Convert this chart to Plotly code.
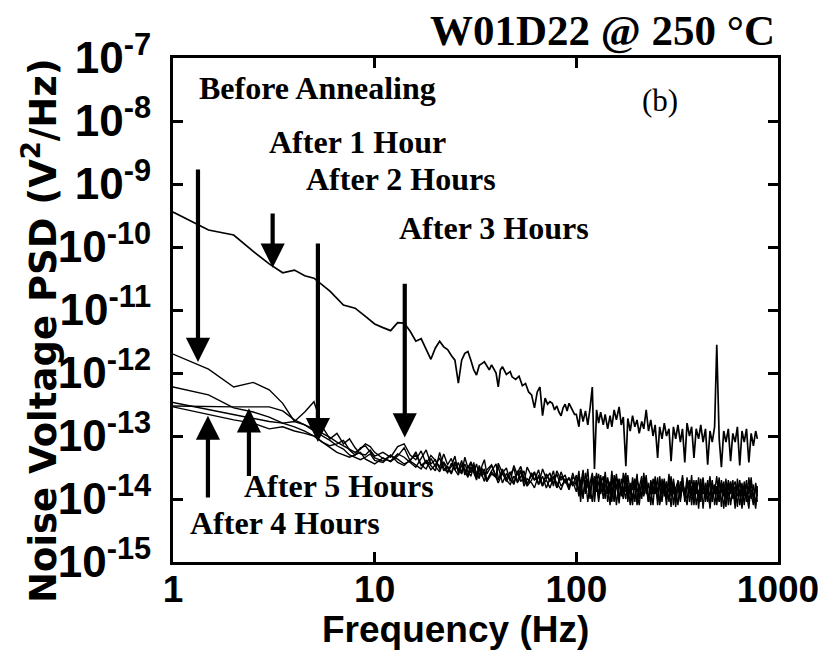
import numpy as np
import plotly.graph_objects as go

# ---------------- data ----------------
# PSD values are stored in units of 1e-14 V^2/Hz
UNIT = 1e-14

# shared high-frequency grid (Hz)
freq_high = [100, 103, 105, 108, 111, 114, 117, 120, 123, 126,
             129, 132, 136, 139, 143, 147, 150, 154, 158, 163,
             167, 171, 176, 180, 185, 190, 195, 200, 205, 211,
             216, 222, 228, 234, 240, 246, 253, 259, 266, 273,
             280, 288, 295, 303, 311, 319, 328, 336, 345, 354,
             364, 373, 383, 393, 404, 414, 425, 437, 448, 460,
             472, 485, 497, 511, 524, 538, 552, 567, 582, 597,
             613, 629, 646, 663, 680, 698, 717, 736, 755, 775, 790]

freq_before_low = [1, 1.5, 2, 2.5, 3, 3.5, 4, 4.5, 5,
                   6, 7, 8, 9, 10, 11, 12, 13, 14, 15, 16, 17, 18, 19, 20, 21, 22, 23, 24, 25,
                   26, 27, 28, 29, 30, 31, 32, 33, 34, 35,
                   37, 38, 40, 41, 42, 43, 45, 47, 48, 50,
                   52, 54, 56, 58, 60, 62, 64, 66, 68, 70, 72, 74, 76, 78, 80, 82, 84, 86, 88, 90, 92,
                   95, 98]

freq_after_low = [1, 1.5, 2, 2.5, 3, 3.5, 4, 4.5, 5, 5.5, 6, 6.5, 7, 7.5, 8, 8.5, 9, 9.5,
                  10, 11, 12, 13, 14, 15, 16, 17, 18, 19, 20, 21, 22, 23, 24, 25, 26, 27, 28, 29, 30,
                  31, 32, 33, 34, 35, 36, 38, 40, 41, 43, 45, 47, 49, 51, 53, 55, 57, 60, 62, 65,
                  68, 71, 74, 77, 80, 84, 88, 92, 96]

psd_before = [36000, 18600, 15500, 8500, 5400, 3900, 4300, 3500, 3200,
              2000, 1200, 1070, 790, 600, 525, 470, 630, 620, 460, 320, 350, 240, 165, 250, 320, 260, 235, 190, 160,
              69, 160, 205, 220, 160, 112, 93, 132, 141, 151,
              112, 135, 100, 60, 112, 126, 95, 105, 87, 79,
              89, 63, 68, 50, 45, 28, 50, 60, 21, 40, 32, 35, 33, 26, 30, 24, 21, 28, 32, 25, 33,
              26, 22,
              # 100 Hz and up
              22, 14, 27, 17, 25, 15, 28, 60, 3, 26,
              16, 24, 15, 22, 13, 21, 14, 26, 18, 29,
              15, 20, 3.3, 19, 12, 21, 14, 18, 11, 17,
              13, 26, 12, 18, 10, 15, 4.5, 14, 9, 16,
              10, 13, 4, 14, 9, 15, 8, 13, 3.8, 16,
              10, 14, 4.5, 13, 9, 15, 8, 13, 3.5, 12,
              8, 14, 280, 9, 3.2, 12, 8, 13, 4, 11,
              8, 14, 3.4, 12, 8, 13, 3.8, 11, 7, 12, 9]

psd_1h = [200, 115, 60, 71, 54, 33, 17, 24, 35, 14, 9, 11, 7.5, 9, 6.5, 5.2, 5, 6,
          4.8, 5.5, 4.6, 6.8, 7.5, 5.0, 4.2, 5.8, 3.6, 4.9, 4.1, 3.2, 5.2, 3.5, 4.4, 2.9, 3.8, 2.6, 4.6, 3.1, 3.9,
          2.7, 3.6, 2.3, 3.3, 4.2, 2.5, 3.4, 2.2, 3.7, 2.6, 3.1, 1.9, 3.4, 2.4, 2.9, 1.8, 3.2, 2.3, 2.7, 1.7,
          3.0, 2.1, 2.6, 1.6, 2.8, 2.0, 2.4, 1.5, 2.6,
          1.6, 2.8, 1.2, 2.3, 1.5, 3.0, 1.1, 2.0, 1.7, 2.6,
          1.0, 2.2, 1.4, 2.7, 1.2, 1.9, 0.9, 2.4, 1.5, 2.1,
          1.1, 2.6, 1.3, 1.8, 0.8, 2.2, 1.4, 2.5, 1.0, 1.9,
          1.3, 2.4, 0.9, 1.7, 1.2, 2.3, 0.8, 1.9, 1.4, 2.1,
          1.0, 2.5, 1.1, 1.6, 0.75, 2.0, 1.3, 2.2, 0.9, 1.8,
          1.2, 2.4, 0.8, 1.6, 1.1, 2.1, 0.7, 1.8, 1.3, 2.3,
          0.9, 1.7, 1.2, 2.2, 0.75, 1.9, 1.0, 2.0, 1.3, 1.6,
          0.7, 2.1, 1.1, 1.8, 0.8, 1.7, 1.2, 2.2, 0.9, 1.6, 1.1]

psd_2h = [60, 45, 28, 24, 20, 16, 14, 12, 10, 8, 7, 7.5, 8.5, 6, 5, 6.5, 7, 5.5,
          4.5, 4.0, 5.0, 3.8, 3.4, 4.2, 5.0, 3.5, 3.0, 4.4, 3.3, 2.7, 3.9, 3.1, 2.5, 3.6, 2.8, 4.1, 2.4, 3.4, 2.6,
          3.8, 2.2, 3.2, 2.4, 1.9, 2.9, 3.5, 2.3, 2.0, 3.0, 2.1, 2.7, 1.8, 2.6, 3.3, 2.2, 1.7, 2.4, 2.0, 2.9,
          1.6, 2.5, 1.9, 2.3, 1.5, 2.7, 1.8, 2.2, 1.6,
          2.4, 1.3, 2.0, 1.0, 2.6, 1.6, 1.2, 2.3, 0.9, 1.9,
          2.5, 1.2, 1.8, 1.0, 2.2, 1.4, 2.8, 1.1, 1.7, 0.85,
          2.1, 1.5, 1.0, 2.4, 1.3, 1.9, 0.9, 2.0, 1.5, 1.1,
          2.6, 1.2, 1.8, 0.8, 2.1, 1.4, 1.0, 2.3, 1.2, 1.6,
          0.8, 2.2, 1.3, 1.9, 0.9, 1.7, 1.1, 2.4, 1.0, 1.5,
          2.0, 0.8, 1.8, 1.2, 2.2, 0.9, 1.6, 1.1, 2.0, 0.7,
          1.7, 1.3, 2.3, 0.9, 1.5, 1.1, 2.1, 0.8, 1.8, 1.2,
          1.6, 0.75, 2.0, 1.1, 1.5, 0.9, 2.2, 1.0, 1.7, 0.8, 1.4]

psd_3h = [30, 29, 29, 29, 29, 25, 18, 15, 13, 11, 9.5, 8, 7, 6, 5.5, 6.2, 7.5, 6.8,
          5.5, 4.4, 4.0, 5.2, 4.6, 3.8, 3.2, 4.4, 6.0, 3.6, 4.2, 3.0, 3.7, 2.7, 3.3, 4.8, 2.6, 3.5, 3.0, 2.4, 3.8,
          2.8, 2.2, 3.4, 2.5, 3.0, 2.0, 2.8, 3.6, 2.1, 2.6, 1.9, 2.4, 3.1, 1.8, 2.3, 2.8, 1.7, 2.6, 2.0, 2.2,
          1.6, 2.5, 1.9, 2.8, 1.5, 2.3, 1.8, 2.1, 1.7,
          1.8, 2.2, 0.9, 2.7, 1.3, 1.8, 1.0, 2.4, 1.4, 2.0,
          0.9, 1.7, 2.3, 1.2, 1.6, 0.8, 2.1, 1.5, 2.5, 1.0,
          1.6, 1.2, 2.2, 0.9, 1.8, 1.4, 2.0, 0.8, 1.5, 2.3,
          1.1, 1.7, 0.9, 2.0, 1.4, 1.2, 2.2, 0.8, 1.6, 1.3,
          1.9, 0.9, 2.1, 1.2, 1.5, 0.8, 1.9, 1.4, 1.1, 2.2,
          0.9, 1.6, 1.3, 2.0, 0.7, 1.7, 1.2, 1.5, 0.9, 2.1,
          1.1, 1.6, 0.8, 1.9, 1.3, 1.4, 0.75, 1.8, 1.2, 2.0,
          0.9, 1.5, 1.3, 0.7, 1.9, 1.0, 1.6, 1.2, 0.8, 1.8, 1.3]

psd_4h = [34, 26, 22, 19, 17, 16, 17, 15, 12, 10, 8.5, 7, 6.2, 5, 4.5, 4.2, 4.6, 5.2,
          4.1, 3.8, 4.9, 4.3, 3.6, 4.0, 5.6, 3.4, 4.0, 2.9, 3.5, 4.5, 2.8, 3.3, 2.6, 3.9, 3.0, 2.5, 3.6, 2.7, 2.3,
          3.4, 2.6, 2.1, 3.1, 2.4, 1.9, 2.7, 2.2, 3.3, 1.8, 2.5, 2.1, 1.7, 2.8, 1.9, 2.2, 1.6, 2.0, 2.6, 1.7,
          2.3, 1.5, 2.1, 1.8, 2.5, 1.6, 2.0, 1.4, 2.2,
          2.0, 1.1, 1.7, 2.9, 1.2, 2.1, 1.5, 0.9, 2.3, 1.3,
          1.8, 2.4, 1.0, 1.6, 2.0, 1.2, 1.5, 0.9, 2.2, 1.7,
          1.2, 1.9, 2.6, 1.1, 1.4, 0.8, 2.0, 1.3, 1.7, 1.0,
          2.2, 1.5, 0.9, 1.8, 1.2, 2.0, 1.4, 0.85, 2.1, 1.1,
          1.6, 1.3, 2.3, 0.8, 1.5, 1.9, 1.0, 1.7, 1.2, 0.8,
          2.0, 1.4, 1.1, 1.8, 0.9, 1.5, 2.2, 1.0, 1.4, 0.75,
          1.8, 1.2, 1.6, 0.9, 2.0, 1.3, 1.0, 1.7, 0.8, 1.5,
          1.9, 1.1, 1.4, 0.8, 1.7, 1.2, 0.7, 1.9, 1.1, 1.5, 0.9]

psd_5h = [29, 22, 18, 16, 13, 14, 12, 11, 10, 8, 6.5, 5.5, 5, 4.6, 5.0, 5.5, 4.3, 3.9,
          3.6, 4.5, 3.9, 4.8, 6.5, 4.0, 3.4, 3.0, 4.1, 3.3, 2.8, 5.5, 3.1, 2.6, 3.7, 2.9, 2.4, 3.5, 2.7, 2.2, 3.2,
          2.6, 2.0, 3.0, 2.3, 2.7, 1.9, 2.5, 2.2, 1.8, 2.6, 2.0, 1.7, 2.3, 1.9, 2.8, 1.6, 2.1, 1.8, 1.5, 2.4,
          1.7, 2.0, 1.5, 2.2, 1.8, 1.4, 2.1, 1.6, 1.9,
          1.3, 2.5, 1.7, 1.1, 2.0, 0.9, 1.8, 2.6, 1.2, 1.6,
          1.1, 2.1, 1.3, 2.4, 0.9, 1.7, 1.2, 2.0, 0.8, 1.9,
          1.4, 1.0, 2.3, 1.3, 1.6, 1.0, 2.1, 1.2, 0.8, 1.8,
          1.5, 2.1, 1.0, 1.4, 0.8, 2.0, 1.3, 1.6, 0.9, 1.9,
          1.2, 1.5, 0.75, 2.1, 1.1, 1.6, 0.9, 1.8, 1.3, 1.0,
          1.7, 1.1, 2.0, 0.8, 1.4, 1.2, 1.9, 0.9, 1.5, 1.1,
          2.0, 0.8, 1.4, 1.2, 1.8, 0.7, 1.6, 1.1, 1.9, 1.0,
          1.3, 1.7, 0.8, 1.5, 1.1, 2.0, 0.9, 1.4, 1.2, 0.7, 1.6]

freq_before = freq_before_low + freq_high
freq_after = freq_after_low + freq_high
series_after = [psd_1h, psd_2h, psd_3h, psd_4h, psd_5h]

# annotation arrows: (frequency Hz, tail PSD, tip PSD)
arrows = [(1.33, 1.8e-9, 1.5e-12),
          (3.12, 3.6e-10, 4.7e-11),
          (5.23, 1.2e-10, 8.0e-14),
          (14.1, 2.75e-11, 9.5e-14),
          (1.49, 1.0e-14, 2.1e-13),
          (2.38, 2.2e-14, 2.75e-13)]

x_tickvals = [1, 10, 100, 1000]
x_ticktext = ["1", "10", "100", "1000"]
y_exponents = [-15, -14, -13, -12, -11, -10, -9, -8, -7]

assert len(freq_before) == len(psd_before), (len(freq_before), len(psd_before))
for s in series_after:
    assert len(s) == len(freq_after), (len(s), len(freq_after))

# ---------------- figure ----------------
SANS = "Liberation Sans, Arial, sans-serif"
SERIF = "Liberation Serif, Times New Roman, serif"

fig = go.Figure()
fig.add_trace(go.Scatter(x=freq_before, y=np.array(psd_before) * UNIT, mode="lines",
                         line=dict(color="black", width=1.7), showlegend=False))
for s in series_after:
    fig.add_trace(go.Scatter(x=freq_after, y=np.array(s) * UNIT, mode="lines",
                             line=dict(color="black", width=1.4), showlegend=False))

L, R, T, B = 173, 43, 58, 88
W, H = 821, 650
pw, ph = W - L - R, H - T - B


def px(xpix):
    return (xpix - L) / pw


def py(ypix):
    return (H - B - ypix) / ph


annotations = []
for f, tail, tip in arrows:
    annotations.append(dict(x=np.log10(f), y=np.log10(tip), ax=np.log10(f), ay=np.log10(tail),
                            xref="x", yref="y", axref="x", ayref="y", text="",
                            showarrow=True, arrowhead=2, arrowsize=1.15, arrowwidth=4.2,
                            arrowcolor="black"))

labels = [("Before Annealing", 317, 88, True, 32),
          ("After 1 Hour", 357, 142, True, 32),
          ("After 2 Hours", 401, 179, True, 32),
          ("After 3 Hours", 494, 228, True, 32),
          ("After 5 Hours", 339, 486, True, 32),
          ("After 4 Hours", 285, 523, True, 32),
          ("(b)", 660, 100, False, 31)]
for text, xx, yy, bold, size in labels:
    annotations.append(dict(x=px(xx), y=py(yy), xref="paper", yref="paper", text=text,
                            showarrow=False, xanchor="center", yanchor="middle",
                            font=dict(family=SERIF, size=size, color="black",
                                      weight="bold" if bold else "normal")))

annotations.append(dict(x=px(777), y=py(31), xref="paper", yref="paper",
                        text="W01D22 @ 250 °C", showarrow=False, xanchor="right",
                        yanchor="middle",
                        font=dict(family=SERIF, size=43, color="black", weight="bold")))
annotations.append(dict(x=px(40), y=py(331), xref="paper", yref="paper",
                        text="Noise Voltage PSD (V<sup>2</sup>/Hz)", showarrow=False,
                        textangle=-90, xanchor="center", yanchor="middle",
                        font=dict(family="DejaVu Sans", size=37, color="black", weight="bold")))
annotations.append(dict(x=px(455), y=py(629), xref="paper", yref="paper",
                        text="Frequency (Hz)", showarrow=False, xanchor="center",
                        yanchor="middle",
                        font=dict(family=SANS, size=37, color="black", weight="bold")))

fig.update_layout(
    template="none",
    width=W, height=H,
    margin=dict(l=L, r=R, t=T, b=B, pad=0, autoexpand=False),
    paper_bgcolor="white", plot_bgcolor="white",
    showlegend=False,
    annotations=annotations,
    xaxis=dict(type="log", range=[0, 3], showgrid=False, zeroline=False, automargin=False,
               showline=True, linecolor="black", linewidth=3, mirror="ticks",
               ticks="inside", ticklen=10, tickwidth=2.5, tickcolor="black",
               tickvals=x_tickvals, ticktext=x_ticktext, ticklabelstandoff=-7,
               ticklabeloverflow="allow",
               tickfont=dict(family=SANS, size=37, color="black", weight="bold")),
    yaxis=dict(type="log", range=[-15, -7], showgrid=False, zeroline=False, automargin=False,
               showline=True, linecolor="black", linewidth=3, mirror="ticks",
               ticks="inside", ticklen=10, tickwidth=2.5, tickcolor="black",
               tickvals=[10.0 ** e for e in y_exponents],
               ticktext=["10<sup>%d</sup>" % e for e in y_exponents],
               ticklabelstandoff=10,
               tickfont=dict(family=SANS, size=44, color="black", weight="bold")),
)

fig.write_html("out.html")
